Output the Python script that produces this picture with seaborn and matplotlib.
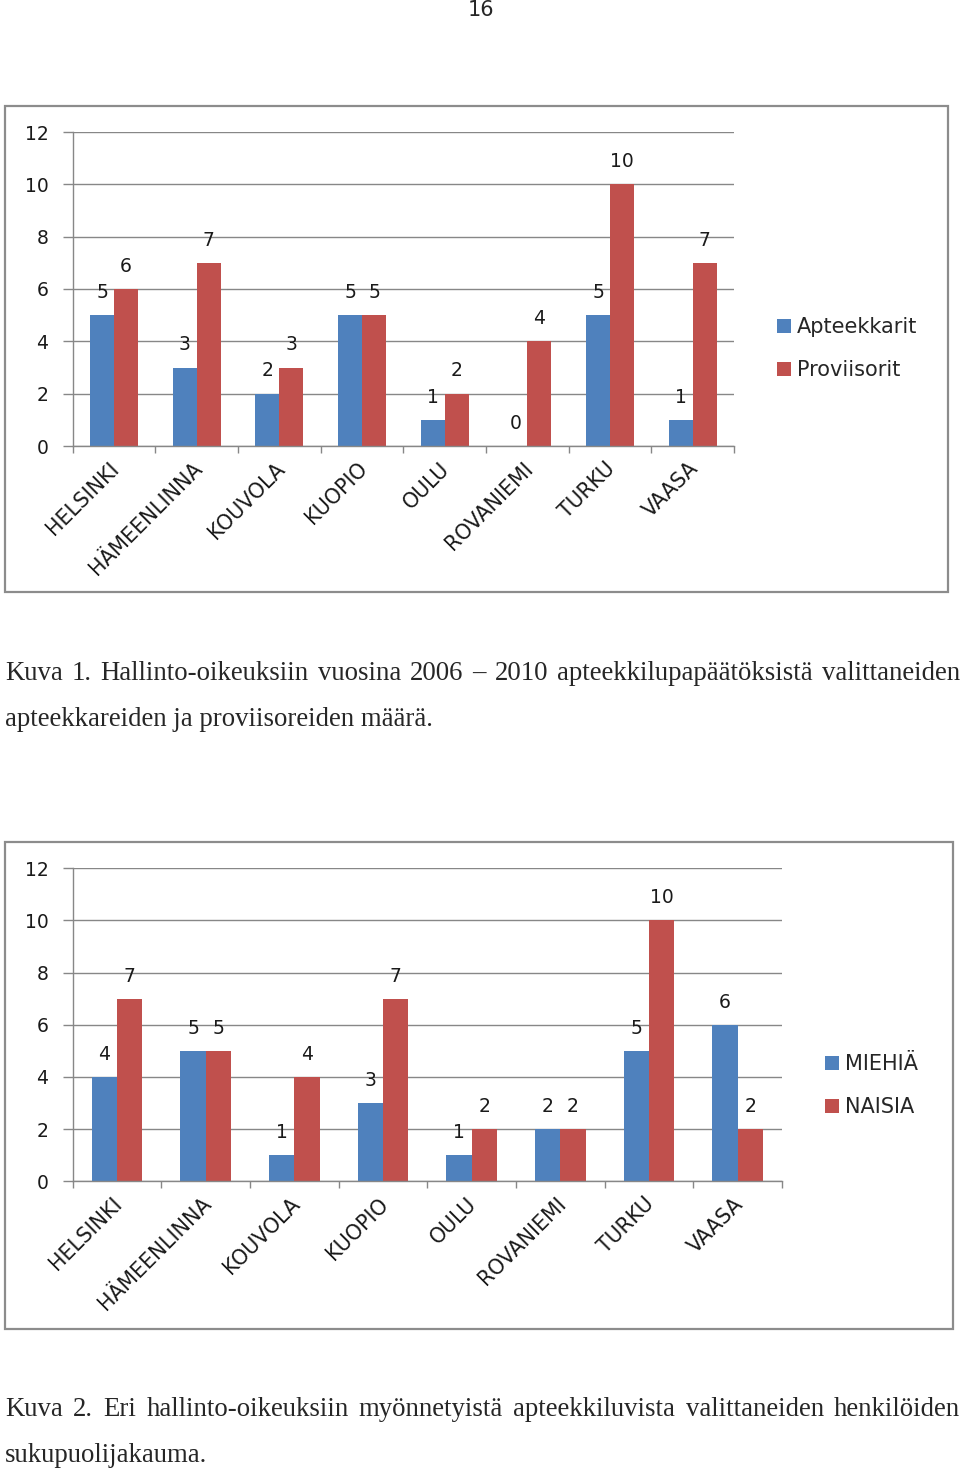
import numpy as np
import pandas as pd
import seaborn as sns
import matplotlib.pyplot as plt
from matplotlib.patches import Rectangle
from matplotlib.ticker import FixedLocator
from matplotlib.transforms import ScaledTranslation

sns.set_style("white")
plt.rcParams['font.family'] = ['DejaVu Sans']

W, H = 960, 1470

kaupungit = ["HELSINKI", "HÄMEENLINNA", "KOUVOLA", "KUOPIO",
             "OULU", "ROVANIEMI", "TURKU", "VAASA"]

# Kuva 1
apteekkarit = [5, 3, 2, 5, 1, 0, 5, 1]
proviisorit = [6, 7, 3, 5, 2, 4, 10, 7]
sarjat1 = ["Apteekkarit", "Proviisorit"]

# Kuva 2
miehia = [4, 5, 1, 3, 1, 2, 5, 6]
naisia = [7, 5, 4, 7, 2, 2, 10, 2]
sarjat2 = ["MIEHIÄ", "NAISIA"]

yticks = [0, 2, 4, 6, 8, 10, 12]

caption1 = ["Kuva 1. Hallinto-oikeuksiin vuosina 2006 – 2010 apteekkilupapäätöksistä valittaneiden",
            "apteekkareiden ja proviisoreiden määrä."]
caption2 = ["Kuva 2. Eri hallinto-oikeuksiin myönnetyistä apteekkiluvista valittaneiden henkilöiden",
            "sukupuolijakauma."]

BLUE = "#4F81BD"
RED = "#C0504D"
GRID = "#878787"
FS = 13.5


def px_rect(x0, y0, x1, y1):
    # pixel box (origin top-left) -> figure fraction [left, bottom, width, height]
    return [x0 / W, 1 - y1 / H, (x1 - x0) / W, (y1 - y0) / H]


def draw_chart(fig, frame, plot_box, legend_xy, first, second, names, bar_width):
    l, b, w, h = px_rect(*frame)
    fig.patches.append(Rectangle((l, b), w, h, transform=fig.transFigure, fill=False,
                                 edgecolor="#8c8c8c", linewidth=1.6, zorder=0))
    ax = fig.add_axes(px_rect(*plot_box))
    df = pd.DataFrame({
        "kaupunki": kaupungit * 2,
        "arvo": first + second,
        "sarja": [names[0]] * len(first) + [names[1]] * len(second),
    })
    sns.barplot(data=df, x="kaupunki", y="arvo", hue="sarja", palette=[BLUE, RED],
                width=bar_width, errorbar=None, saturation=1, linewidth=0, ax=ax)
    for cont in ax.containers:
        ax.bar_label(cont, padding=9.5, fontsize=FS, color="#1a1a1a")

    ax.set_xlim(-0.5, len(kaupungit) - 0.5)
    ax.set_ylim(0, 12)
    ax.set_yticks(yticks)
    ax.yaxis.grid(True, color=GRID, linewidth=1)
    ax.set_axisbelow(True)
    for side in ["top", "right"]:
        ax.spines[side].set_visible(False)
    for side in ["left", "bottom"]:
        ax.spines[side].set_color(GRID)
        ax.spines[side].set_linewidth(1)
    ax.set_xlabel("")
    ax.set_ylabel("")

    ax.tick_params(axis="y", left=True, length=7, width=1, color=GRID, pad=10.5,
                   labelsize=FS, labelcolor="#1a1a1a")
    ax.xaxis.set_minor_locator(FixedLocator(np.arange(-0.5, len(kaupungit), 1)))
    ax.tick_params(axis="x", which="minor", bottom=True, length=5, width=1, color=GRID)
    ax.tick_params(axis="x", which="major", length=0, pad=9)
    ax.set_xticks(range(len(kaupungit)))
    ax.set_xticklabels(kaupungit, rotation=45, ha="right", rotation_mode="anchor",
                       fontsize=14.8, color="#1a1a1a")
    # nudge the slanted labels a little to the left, as in Excel
    shift = ScaledTranslation(-5 / 100, 0, fig.dpi_scale_trans)
    for lbl in ax.get_xticklabels():
        lbl.set_transform(lbl.get_transform() + shift)

    sns.move_legend(ax, "center left",
                    bbox_to_anchor=(legend_xy[0] / W, 1 - legend_xy[1] / H),
                    bbox_transform=fig.transFigure, frameon=False, title=None,
                    fontsize=15, handlelength=0.65, handleheight=0.65, handletextpad=0.3,
                    labelspacing=1.1, borderpad=0, borderaxespad=0)
    return ax


def draw_caption(fig, lines, baselines, size=19.3):
    renderer = fig.canvas.get_renderer()
    for k, (line, yb) in enumerate(zip(lines, baselines)):
        y = 1 - yb / H
        if k == len(lines) - 1:
            fig.text(5 / W, y, line, fontsize=size, family="Liberation Serif", va="baseline")
            continue
        # justified line: spread the words from the left to the right margin
        words = line.split(" ")
        texts = [fig.text(0, y, word, fontsize=size, family="Liberation Serif",
                          va="baseline") for word in words]
        widths = [t.get_window_extent(renderer).width for t in texts]
        gap = (955 - sum(widths)) / (len(words) - 1)
        x = 5
        for t, wd in zip(texts, widths):
            t.set_x(x / W)
            x += wd + gap


fig = plt.figure(figsize=(W / 100, H / 100), dpi=100)

fig.text(481.5 / W, 1 - 10.5 / H, "16", fontsize=15, ha="center", va="center")

draw_chart(fig, (5, 106, 948, 592), (72.7, 132, 734, 446), (777, 348.5),
           apteekkarit, proviisorit, sarjat1, 0.58)
draw_caption(fig, caption1, [680, 726])

draw_chart(fig, (5, 842, 953, 1329), (72.7, 868.3, 782, 1181.3), (825, 1085.5),
           miehia, naisia, sarjat2, 0.57)
draw_caption(fig, caption2, [1416, 1462])

fig.savefig("out.png", dpi=100)
